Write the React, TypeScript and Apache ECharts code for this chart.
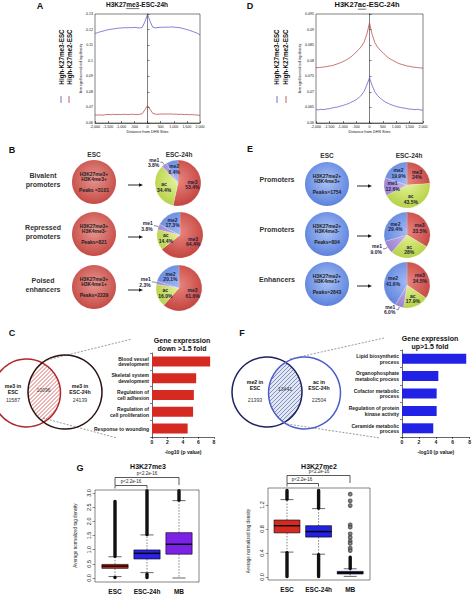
import { useEffect, useRef } from 'react';
import * as echarts from 'echarts';

// ---------- DATA ----------
const distance = [-2000, -1900, -1800, -1700, -1600, -1500, -1400, -1300, -1200, -1100, -1000, -900, -800, -700, -600, -500, -400, -300, -200, -100, 0, 100, 200, 300, 400, 500, 600, 700, 800, 900, 1000, 1100, 1200, 1300, 1400, 1500, 1600, 1700, 1800, 1900, 2000];
// Panel A: H3K27me3 density at DHS sites
const aHighMe3 = [0.1175, 0.118, 0.1186, 0.119, 0.1195, 0.1199, 0.1202, 0.1204, 0.1207, 0.1209, 0.121, 0.1212, 0.1211, 0.1213, 0.1212, 0.1214, 0.1212, 0.121, 0.1214, 0.125, 0.1298, 0.1252, 0.1215, 0.1211, 0.1213, 0.1215, 0.1214, 0.1216, 0.1215, 0.1217, 0.1216, 0.1214, 0.1213, 0.1209, 0.1205, 0.12, 0.1195, 0.1189, 0.1183, 0.1176, 0.1166];
const aHighMe2 = [0.0652, 0.0651, 0.0652, 0.065, 0.0653, 0.0655, 0.0653, 0.0656, 0.0654, 0.0655, 0.0654, 0.0656, 0.0655, 0.0654, 0.0656, 0.0655, 0.0654, 0.0656, 0.066, 0.0685, 0.0712, 0.0688, 0.0662, 0.0657, 0.0656, 0.0658, 0.0657, 0.0658, 0.0657, 0.0658, 0.0656, 0.0657, 0.0655, 0.0656, 0.0654, 0.0655, 0.0653, 0.0654, 0.0652, 0.0651, 0.0649];
// Panel D: H3K27ac density at DHS sites
const dHighMe3 = [0.0643, 0.0642, 0.0644, 0.0643, 0.0645, 0.0646, 0.0648, 0.065, 0.0651, 0.0654, 0.0656, 0.0659, 0.0662, 0.0666, 0.067, 0.0675, 0.0681, 0.069, 0.0702, 0.0722, 0.0745, 0.072, 0.07, 0.0688, 0.068, 0.0673, 0.0667, 0.0663, 0.0659, 0.0656, 0.0653, 0.0651, 0.0649, 0.0648, 0.0646, 0.0645, 0.0644, 0.0643, 0.0644, 0.0642, 0.0641];
const dHighMe2 = [0.0778, 0.0778, 0.0779, 0.078, 0.0781, 0.0783, 0.0784, 0.0787, 0.079, 0.0793, 0.0797, 0.0801, 0.0806, 0.0812, 0.0819, 0.0828, 0.0836, 0.0846, 0.086, 0.0885, 0.0921, 0.0884, 0.0858, 0.0844, 0.0834, 0.0826, 0.0817, 0.081, 0.0804, 0.08, 0.0795, 0.0791, 0.0788, 0.0786, 0.0783, 0.0782, 0.078, 0.0779, 0.0778, 0.0777, 0.0776];

// Panels B / E: pies
const sliceNames = ['me3', 'ac', 'me1', 'me2'];
const bBivalent = [53.4, 34.4, 3.8, 8.4];
const bRepressed = [64.4, 14.4, 3.8, 17.3];
const bPoised = [61.6, 16.0, 2.3, 20.1];
const ePromotersK4me3 = [24, 43.5, 12.6, 19.9];
const ePromotersNoK4me3 = [33.5, 28, 9.0, 29.4];
const eEnhancers = [34.5, 17.9, 6.0, 41.6];
const bPeaks = [3101, 821, 2229];
const ePeaks = [1754, 804, 2843];
const bMarks = ['H3K27me3+\nH3K4me3+', 'H3K27me3+\nH3K4me3-', 'H3K27me3+\nH3K4me1+'];
const eMarks = ['H3K27me2+\nH3K4me3+', 'H3K27me2+\nH3K4me3-', 'H3K27me2+\nH3K4me1+'];
const bRowLabels = ['Bivalent\npromoters', 'Repressed\npromoters', 'Poised\nenhancers'];
const eRowLabels = ['Promoters', 'Promoters', 'Enhancers'];

// Panels C / F: venn + GO bars
const cVennCounts = [11587, 10096, 24139];
const fVennCounts = [21393, 13441, 22504];
const cTerms = ['Blood vessel\ndevelopment', 'Skeletal system\ndevelopment', 'Regulation of\ncell adhesion', 'Regulation of\ncell proliferation', 'Response to wounding'];
const cLogP = [7.5, 5.7, 5.4, 5.3, 4.6];
const fTerms = ['Lipid biosynthetic\nprocess', 'Organophosphate\nmetabolic process', 'Cofactor metabolic\nprocess', 'Regulation of protein\nkinase activity', 'Ceramide metabolic\nprocess'];
const fLogP = [7.6, 4.3, 4.1, 4.1, 3.7];

// Panel G: boxplots [low whisker, q1, median, q3, high whisker]
const boxGroups = ['ESC', 'ESC-24h', 'MB'];
const me3Box = [[0.05, 0.34, 0.42, 0.48, 0.75], [0.19, 0.67, 0.87, 0.99, 1.52], [0.0, 0.84, 1.19, 1.6, 2.73]];
const me3OutlierBands = [[0, 0.75, 2.72], [0, 0.0, 0.04], [1, 1.52, 3.1], [1, 0.0, 0.15], [2, 2.73, 3.1]];
const me2Box = [[0.415, 0.735, 0.855, 0.95, 1.29], [0.38, 0.665, 0.757, 0.855, 1.14], [0.01, 0.05, 0.07, 0.094, 0.137]];
const me2OutlierBands = [[0, 1.29, 1.45], [0, 0.0, 0.415], [1, 1.14, 1.45], [1, 0.0, 0.38], [2, 0.137, 0.34]];
const me2MbOutliers = [1.38, 1.27, 1.19, 0.87, 0.83, 0.72, 0.66, 0.6, 0.56, 0.48, 0.44];

// ---------- HELPERS ----------
const FONT = '"Liberation Sans", Arial, Helvetica, sans-serif';

function measure(t: string, font: string): number {
  const c = document.createElement('canvas').getContext('2d');
  if (!c) return t.length * 4;
  c.font = font;
  return c.measureText(t).width;
}

function T(x: number, y: number, text: string, size: number, o: any = {}) {
  const align = o.align || 'center';
  return {
    type: 'text', x, y, rotation: o.rot || 0, silent: true, z: 20,
    style: {
      text, fontSize: size, fontWeight: o.bold ? 'bold' : 'normal', fontFamily: FONT,
      fill: o.color || '#111', align, textAlign: align, verticalAlign: 'middle', textVerticalAlign: 'middle',
      lineHeight: o.lh,
    },
  };
}

function L(x1: number, y1: number, x2: number, y2: number, color: string, w: number, dash?: number[]) {
  return { type: 'line', silent: true, z: 15, shape: { x1, y1, x2, y2 }, style: { stroke: color, lineWidth: w, lineDash: dash } };
}

function arrow(x1: number, x2: number, y: number) {
  return [
    L(x1, y, x2 - 3, y, '#111', 0.9),
    { type: 'polygon', silent: true, z: 15, shape: { points: [[x2, y], [x2 - 4, y - 1.7], [x2 - 4, y + 1.7]] }, style: { fill: '#111' } },
  ];
}

type Circ = { x: number; y: number; r: number };

function lensPoints(a: Circ, b: Circ) {
  const dx = b.x - a.x, dy = b.y - a.y, d = Math.hypot(dx, dy);
  const t0 = Math.atan2(dy, dx);
  const al = Math.acos((d * d + a.r * a.r - b.r * b.r) / (2 * d * a.r));
  const be = Math.acos((d * d + b.r * b.r - a.r * a.r) / (2 * d * b.r));
  const pts: number[][] = [];
  for (let i = 0; i <= 30; i++) {
    const t = t0 - al + (2 * al * i) / 30;
    pts.push([a.x + a.r * Math.cos(t), a.y + a.r * Math.sin(t)]);
  }
  const t1 = t0 + Math.PI;
  for (let i = 0; i <= 30; i++) {
    const t = t1 - be + (2 * be * i) / 30;
    pts.push([b.x + b.r * Math.cos(t), b.y + b.r * Math.sin(t)]);
  }
  return pts;
}

function segInDisk(k: number, c: Circ): number[] | null {
  const A = 2, B = -2 * (c.x + k - c.y), C = c.x * c.x + (k - c.y) * (k - c.y) - c.r * c.r;
  const disc = B * B - 4 * A * C;
  if (disc <= 0) return null;
  const s = Math.sqrt(disc);
  return [(-B - s) / (2 * A), (-B + s) / (2 * A)];
}

function hatch(a: Circ, b: Circ, step: number, color: string, w: number) {
  const out: any[] = [];
  const kMin = Math.min(a.x + a.y, b.x + b.y) - 2 * Math.max(a.r, b.r);
  const kMax = Math.max(a.x + a.y, b.x + b.y) + 2 * Math.max(a.r, b.r);
  for (let k = kMin; k <= kMax; k += step) {
    const s1 = segInDisk(k, a), s2 = segInDisk(k, b);
    if (!s1 || !s2) continue;
    const t1 = Math.max(s1[0], s2[0]), t2 = Math.min(s1[1], s2[1]);
    if (t2 <= t1) continue;
    out.push(L(t1, k - t1, t2, k - t2, color, w));
  }
  return out;
}

function venn(a: Circ, b: Circ, colA: string, colB: string, lensFill: string, hatchCol: string) {
  return [
    { type: 'polygon', silent: true, z: 10, shape: { points: lensPoints(a, b) }, style: { fill: lensFill } },
    ...hatch(a, b, 4, hatchCol, 0.7),
    { type: 'circle', silent: true, z: 16, shape: { cx: a.x, cy: a.y, r: a.r }, style: { fill: 'none', stroke: colA, lineWidth: 1.5 } },
    { type: 'circle', silent: true, z: 16, shape: { cx: b.x, cy: b.y, r: b.r }, style: { fill: 'none', stroke: colB, lineWidth: 1.5 } },
  ];
}

const sliceGrad = [
  ['#e8857e', '#c4433d'],
  ['#e6f49c', '#b6d146'],
  ['#ccb8ef', '#9a7fd0'],
  ['#a0b9f3', '#5d83dc'],
];

function grad(cx: number, cy: number, r: number, stops: string[]) {
  return new echarts.graphic.RadialGradient(cx, cy - 3, r * 1.15, [
    { offset: 0, color: stops[0] },
    { offset: 1, color: stops[1] },
  ], true);
}

function pctText(v: number) {
  return v % 1 === 0 && v >= 20 ? `${v}%` : `${v.toFixed(1)}%`;
}

function slicePie(cx: number, cy: number, values: number[], outsideIdx: number[]) {
  const r = 23;
  return {
    type: 'pie', center: [cx, cy], radius: r, startAngle: 90, clockwise: true, silent: true,
    avoidLabelOverlap: false,
    label: {
      show: true, position: 'inside', fontSize: 5, fontWeight: 'bold', color: '#1c1c3c', lineHeight: 5.5, fontFamily: FONT,
      formatter: (p: any) => `${p.name}\n${pctText(p.value)}`,
    },
    labelLine: { show: false },
    itemStyle: { borderColor: 'rgba(255,255,255,0.6)', borderWidth: 0.3 },
    data: sliceNames.map((n, i) => {
      const item: any = { name: n, value: values[i], itemStyle: { color: grad(cx, cy, r, sliceGrad[i]) } };
      if (outsideIdx.includes(i)) {
        item.label = { position: 'outside', distanceToLabelLine: 1 };
        item.labelLine = { show: true, length: 3, length2: 2, lineStyle: { color: '#111', width: 0.5 } };
      }
      return item;
    }),
  };
}

function bigPie(cx: number, cy: number, marks: string, peaks: number, stops: string[], spaced: boolean) {
  const r = 22;
  return {
    type: 'pie', center: [cx, cy], radius: r, silent: true,
    label: {
      show: true, position: 'center', fontSize: 5, fontWeight: 'bold', color: '#222', lineHeight: 5.2, fontFamily: FONT,
      formatter: (p: any) => `${p.name}\n \nPeaks${spaced ? ' =' : '='}${p.value}`,
    },
    labelLine: { show: false },
    data: [{ name: marks, value: peaks, itemStyle: { color: grad(cx, cy, r, stops) } }],
  };
}

function boxRenderer(colors: string[]) {
  return (params: any, api: any) => {
    const c = api.value(0);
    const pts = [1, 2, 3, 4, 5].map((i) => api.coord([c, api.value(i)]));
    const x = pts[0][0];
    const yLo = pts[0][1], yQ1 = pts[1][1], yMd = pts[2][1], yQ3 = pts[3][1], yHi = pts[4][1];
    const band = api.size([1, 0])[0];
    const hw = band * 0.41, cw = hw * 0.5;
    const ln = (x1: number, y1: number, x2: number, y2: number, w: number, dash?: number[]) => ({
      type: 'line', shape: { x1, y1, x2, y2 }, style: { stroke: '#000', lineWidth: w, lineDash: dash },
    });
    return {
      type: 'group',
      children: [
        ln(x, yQ3, x, yHi, 0.5, [1.5, 1.5]),
        ln(x, yQ1, x, yLo, 0.5, [1.5, 1.5]),
        ln(x - cw, yHi, x + cw, yHi, 0.6),
        ln(x - cw, yLo, x + cw, yLo, 0.6),
        { type: 'rect', shape: { x: x - hw, y: yQ3, width: 2 * hw, height: Math.max(yQ1 - yQ3, 1) }, style: { fill: colors[params.dataIndex], stroke: '#000', lineWidth: 0.6 } },
        ln(x - hw, yMd, x + hw, yMd, 1.4),
      ],
    };
  };
}

function bandRenderer(params: any, api: any) {
  const c = api.value(0);
  const p1 = api.coord([c, api.value(1)]);
  const p2 = api.coord([c, api.value(2)]);
  const w = 3.4;
  return {
    type: 'rect',
    shape: { x: p1[0] - w / 2, y: Math.min(p1[1], p2[1]) - 1.2, width: w, height: Math.abs(p1[1] - p2[1]) + 2.4, r: 1.6 },
    style: { fill: '#111' },
  };
}

const lineAxisX = (gridIndex: number) => ({
  gridIndex, type: 'value', min: -2000, max: 2000, interval: 500,
  axisLine: { lineStyle: { color: '#000', width: 0.5 } },
  axisTick: { inside: true, length: 2, lineStyle: { color: '#000', width: 0.5 } },
  axisLabel: { fontSize: 3.6, color: '#111', margin: 2, fontFamily: FONT },
  splitLine: { show: false },
  name: 'Distance from DHS Sites', nameLocation: 'middle', nameGap: 7,
  nameTextStyle: { fontSize: 3.8, color: '#111', fontFamily: FONT },
});

const lineAxisY = (gridIndex: number, min: number, max: number, interval: number) => ({
  gridIndex, type: 'value', min, max, interval,
  axisLine: { lineStyle: { color: '#000', width: 0.5 } },
  axisTick: { inside: true, length: 2, lineStyle: { color: '#000', width: 0.5 } },
  axisLabel: { fontSize: 3.6, color: '#111', margin: 2, fontFamily: FONT, formatter: (v: number) => String(parseFloat(v.toFixed(4))) },
  splitLine: { show: false },
  name: 'Averaged normalized tag density', nameLocation: 'middle', nameGap: 11,
  nameTextStyle: { fontSize: 3.4, color: '#111', fontFamily: FONT },
});

const barAxisX = (gridIndex: number) => ({
  gridIndex, type: 'value', min: 0, max: 8, interval: 2,
  axisLine: { show: true, lineStyle: { color: '#000', width: 0.6 } },
  axisTick: { show: true, length: 2, lineStyle: { color: '#000', width: 0.5 } },
  axisLabel: { fontSize: 5, fontWeight: 'bold', color: '#111', margin: 2.5, fontFamily: FONT },
  splitLine: { show: false },
  name: '-log10 (p value)', nameLocation: 'middle', nameGap: 12,
  nameTextStyle: { fontSize: 5, fontWeight: 'bold', color: '#111', fontFamily: FONT },
});

const barAxisY = (gridIndex: number, terms: string[]) => ({
  gridIndex, type: 'category', data: terms, inverse: true,
  axisLine: { show: true, lineStyle: { color: '#000', width: 0.6 } },
  axisTick: { show: true, length: 2, lineStyle: { color: '#000', width: 0.5 } },
  axisLabel: { interval: 0, fontSize: 5, fontWeight: 'bold', color: '#222', margin: 3, lineHeight: 5.6, fontFamily: FONT },
});

function buildOption() {
  const fA = `bold 6.5px ${FONT}`;
  const fD = `bold 7.5px ${FONT}`;
  const tA = 'H3K27me3-ESC-24h';
  const tD = 'H3K27ac-ESC-24h';
  const aX0 = 137 - measure(tA, fA) / 2;
  const aU1 = aX0 + measure('H3K27', fA);
  const aU2 = aU1 + measure('me3', fA);
  const dX0 = 367 - measure(tD, fD) / 2;
  const dU1 = dX0 + measure('H3K27', fD);
  const dU2 = dU1 + measure('ac', fD);

  const blue = '#4f4fc4';
  const red = '#b23a3a';

  const bRowsY = [182, 234, 287];
  const eRowsY = [184, 234, 284];
  const bSlices = [bBivalent, bRepressed, bPoised];
  const eSlices = [ePromotersK4me3, ePromotersNoK4me3, eEnhancers];
  const bSmallX = [178, 180, 179];

  const cA: Circ = { x: 26.5, y: 393, r: 34 };
  const cB: Circ = { x: 65, y: 392, r: 37 };
  const fAc: Circ = { x: 267, y: 392, r: 35 };
  const fBc: Circ = { x: 304.5, y: 393, r: 36 };

  const graphic: any[] = [
    // panel letters
    T(40, 6, 'A', 9, { bold: true }),
    T(250, 6, 'D', 9, { bold: true }),
    T(12, 150, 'B', 9, { bold: true }),
    T(250, 149, 'E', 9, { bold: true }),
    T(12, 333, 'C', 9, { bold: true }),
    T(242, 333, 'F', 9, { bold: true }),
    T(80, 468, 'G', 9, { bold: true }),
    // titles A/D
    T(137, 4.5, tA, 6.5, { bold: true }),
    L(aU1, 8.6, aU2, 8.6, '#111', 0.6),
    T(367, 4.5, tD, 7.5, { bold: true }),
    L(dU1, 9.2, dU2, 9.2, '#111', 0.6),
    // legends A
    T(61, 57, 'High-K27me3-ESC', 6.3, { bold: true, rot: Math.PI / 2 }),
    T(69, 57, 'High-K27me2-ESC', 6.3, { bold: true, rot: Math.PI / 2 }),
    L(61, 96, 61, 103, blue, 0.8),
    L(69, 96, 69, 103, red, 0.8),
    // legends D
    T(276, 57, 'High-K27me3-ESC', 6.3, { bold: true, rot: Math.PI / 2 }),
    T(285, 57, 'High-K27me2-ESC', 6.3, { bold: true, rot: Math.PI / 2 }),
    L(277, 96, 277, 103, blue, 0.8),
    L(286, 96, 286, 103, red, 0.8),
    // B/E headers
    T(94, 154, 'ESC', 6.5, { bold: true, color: '#333' }),
    T(179, 154, 'ESC-24h', 6.5, { bold: true, color: '#333' }),
    T(327, 155, 'ESC', 6.5, { bold: true, color: '#333' }),
    T(409, 155, 'ESC-24h', 6.5, { bold: true, color: '#333' }),
    // C / F venn texts
    T(13, 389, 'me3 in\nESC', 5.2, { bold: true, lh: 5.6 }),
    T(13, 399.5, String(cVennCounts[0]), 5.2, { color: '#333' }),
    T(43.5, 390, String(cVennCounts[1]), 5, { color: '#333' }),
    T(80, 389, 'me3 in\nESC-24h', 5.2, { bold: true, lh: 5.6 }),
    T(80, 399.5, String(cVennCounts[2]), 5.2, { color: '#333' }),
    T(255, 385, 'me2 in\nESC', 5.2, { bold: true, lh: 5.6 }),
    T(255, 400, String(fVennCounts[0]), 5.2, { color: '#333' }),
    T(285, 389, String(fVennCounts[1]), 5, { color: '#333' }),
    T(319, 385, 'ac in\nESC-24h', 5.2, { bold: true, lh: 5.6 }),
    T(319, 400, String(fVennCounts[2]), 5.2, { color: '#333' }),
    // dashed zoom lines
    L(47, 360, 132, 339, '#555', 0.6, [2, 1.5]),
    L(43, 418, 117, 438, '#555', 0.6, [2, 1.5]),
    L(290, 359, 384, 338, '#555', 0.6, [2, 1.5]),
    L(287, 424, 380, 438, '#555', 0.6, [2, 1.5]),
    // bar titles
    T(182, 344, 'Gene expression\ndown >1.5 fold', 7, { bold: true, lh: 8 }),
    T(430, 342, 'Gene expression\nup>1.5 fold', 7, { bold: true, lh: 8 }),
    // G titles, frames, brackets
    T(148, 466, 'H3K27me3', 7, { bold: true }),
    T(319, 466, 'H3K27me2', 7, { bold: true }),
    { type: 'rect', silent: true, z: 14, shape: { x: 95, y: 490, width: 104, height: 92 }, style: { fill: 'none', stroke: '#333', lineWidth: 0.6 } },
    { type: 'rect', silent: true, z: 14, shape: { x: 268, y: 488, width: 102, height: 92 }, style: { fill: 'none', stroke: '#333', lineWidth: 0.6 } },
    { type: 'polyline', silent: true, z: 15, shape: { points: [[115, 485], [115, 477.5], [179, 477.5], [179, 485]] }, style: { stroke: '#111', lineWidth: 0.7, fill: 'none' } },
    { type: 'polyline', silent: true, z: 15, shape: { points: [[115, 488.5], [115, 485.5], [147, 485.5], [147, 488.5]] }, style: { stroke: '#111', lineWidth: 0.7, fill: 'none' } },
    T(147, 473.5, 'p<2.2e-16', 4.5, { color: '#222' }),
    T(131, 481.6, 'p<2.2e-16', 4.5, { color: '#222' }),
    { type: 'polyline', silent: true, z: 15, shape: { points: [[287, 483], [287, 475.5], [350, 475.5], [350, 483]] }, style: { stroke: '#111', lineWidth: 0.7, fill: 'none' } },
    { type: 'polyline', silent: true, z: 15, shape: { points: [[287, 486.5], [287, 483.5], [318.5, 483.5], [318.5, 486.5]] }, style: { stroke: '#111', lineWidth: 0.7, fill: 'none' } },
    T(319, 471.8, 'p<2.2e-16', 4.5, { color: '#222' }),
    T(302, 479.8, 'p<2.2e-16', 4.5, { color: '#222' }),
    ...venn(cA, cB, '#b0262a', '#2a1212', '#ffffff', '#c8302a'),
    ...venn(fAc, fBc, '#1c2060', '#4c5ccc', '#e2e7f4', '#5a6aa8'),
  ];

  bRowLabels.forEach((t, i) => graphic.push(T(43, bRowsY[i] - 2, t, 7, { bold: true, color: '#333', lh: 8.5 })));
  eRowLabels.forEach((t, i) => graphic.push(T(277, eRowsY[i] - 5, t, 7, { bold: true, color: '#333' })));
  bRowsY.forEach((y) => graphic.push(...arrow(128, 143, y + 3)));
  eRowsY.forEach((y) => graphic.push(...arrow(357, 372, y + 2)));

  const series: any[] = [
    { type: 'line', xAxisIndex: 0, yAxisIndex: 0, data: distance.map((d, i) => [d, aHighMe3[i]]), showSymbol: false, lineStyle: { color: blue, width: 0.7 }, itemStyle: { color: blue }, silent: true },
    { type: 'line', xAxisIndex: 0, yAxisIndex: 0, data: distance.map((d, i) => [d, aHighMe2[i]]), showSymbol: false, lineStyle: { color: red, width: 0.7 }, itemStyle: { color: red }, silent: true },
    { type: 'line', xAxisIndex: 1, yAxisIndex: 1, data: distance.map((d, i) => [d, dHighMe3[i]]), showSymbol: false, lineStyle: { color: blue, width: 0.7 }, itemStyle: { color: blue }, silent: true },
    { type: 'line', xAxisIndex: 1, yAxisIndex: 1, data: distance.map((d, i) => [d, dHighMe2[i]]), showSymbol: false, lineStyle: { color: red, width: 0.7 }, itemStyle: { color: red }, silent: true },
  ];

  bRowsY.forEach((y, i) => {
    series.push(bigPie(94, y, bMarks[i], bPeaks[i], ['#e89590', '#c54a44'], i === 0));
    series.push(slicePie(bSmallX[i], y + 1, bSlices[i], [2]));
  });
  eRowsY.forEach((y, i) => {
    series.push(bigPie(327, y, eMarks[i], ePeaks[i], ['#acc3f6', '#5a81dc'], false));
    series.push(slicePie(407, y + 1, eSlices[i], i === 0 ? [] : [2]));
  });

  series.push(
    { type: 'bar', xAxisIndex: 2, yAxisIndex: 2, data: cLogP, barWidth: 10, itemStyle: { color: '#d42a22' }, silent: true },
    { type: 'bar', xAxisIndex: 3, yAxisIndex: 3, data: fLogP, barWidth: 10, itemStyle: { color: '#2222e6' }, silent: true },
    { type: 'custom', xAxisIndex: 4, yAxisIndex: 4, renderItem: bandRenderer, data: me3OutlierBands, encode: { x: 0, y: [1, 2] }, silent: true, z: 3 },
    { type: 'custom', xAxisIndex: 4, yAxisIndex: 4, renderItem: boxRenderer(['#c8281e', '#2b22e6', '#7c22e8']), data: me3Box.map((b, i) => [i, ...b]), encode: { x: 0, y: [1, 2, 3, 4, 5] }, silent: true, z: 4 },
    { type: 'custom', xAxisIndex: 5, yAxisIndex: 5, renderItem: bandRenderer, data: me2OutlierBands, encode: { x: 0, y: [1, 2] }, silent: true, z: 3 },
    { type: 'custom', xAxisIndex: 5, yAxisIndex: 5, renderItem: boxRenderer(['#d42a22', '#2222e0', '#2e1a7a']), data: me2Box.map((b, i) => [i, ...b]), encode: { x: 0, y: [1, 2, 3, 4, 5] }, silent: true, z: 4 },
    { type: 'scatter', xAxisIndex: 5, yAxisIndex: 5, data: me2MbOutliers.map((v) => [2, v]), symbol: 'emptyCircle', symbolSize: 2.8, clip: false, itemStyle: { color: '#444', borderWidth: 0.5 }, silent: true },
  );

  const gAxisY = (gridIndex: number, max: number, interval: number, offset: number) => ({
    gridIndex, type: 'value', min: 0, max, interval, offset,
    axisLine: { show: false },
    axisTick: { show: true, length: 2.5, lineStyle: { color: '#222', width: 0.5 } },
    axisLabel: { rotate: 90, fontSize: 5.5, color: '#222', margin: 3, fontFamily: FONT, formatter: (v: number) => v.toFixed(1) },
    splitLine: { show: false },
    name: 'Average normalized tag density', nameLocation: 'middle', nameGap: 17,
    nameTextStyle: { fontSize: 4.6, color: '#222', fontFamily: FONT },
  });
  const gAxisX = (gridIndex: number, margin: number) => ({
    gridIndex, type: 'category', data: boxGroups,
    axisLine: { show: false }, axisTick: { show: false },
    axisLabel: { interval: 0, hideOverlap: false, fontSize: 6.5, fontWeight: 'bold', color: '#111', margin, fontFamily: FONT },
  });

  return {
    animation: false,
    backgroundColor: '#ffffff',
    textStyle: { fontFamily: FONT },
    grid: [
      { left: 95, top: 14, width: 105, height: 109, show: true, borderColor: '#000', borderWidth: 0.5, backgroundColor: 'transparent' },
      { left: 316, top: 14, width: 107, height: 109, show: true, borderColor: '#000', borderWidth: 0.5, backgroundColor: 'transparent' },
      { left: 152, top: 353, width: 62, height: 84 },
      { left: 402, top: 350, width: 69, height: 87 },
      { left: 99, top: 493, width: 96, height: 85 },
      { left: 271.2, top: 505, width: 94.8, height: 72 },
    ],
    xAxis: [lineAxisX(0), lineAxisX(1), barAxisX(2), barAxisX(3), gAxisX(4, 10), gAxisX(5, 9)],
    yAxis: [
      lineAxisY(0, 0.06, 0.13, 0.01),
      lineAxisY(1, 0.06, 0.095, 0.005),
      barAxisY(2, cTerms),
      barAxisY(3, fTerms),
      gAxisY(4, 3, 0.5, 4),
      gAxisY(5, 1.2, 0.4, 3),
    ],
    series,
    graphic,
  };
}

export default function App() {
  const ref = useRef<HTMLDivElement>(null);
  useEffect(() => {
    if (!ref.current) return;
    const chart = echarts.init(ref.current, null, { renderer: 'svg' });
    chart.setOption(buildOption() as any);
    return () => chart.dispose();
  }, []);
  return <div ref={ref} style={{ position: 'absolute', left: 0, top: 0, width: 474, height: 595, background: '#fff' }} />;
}
